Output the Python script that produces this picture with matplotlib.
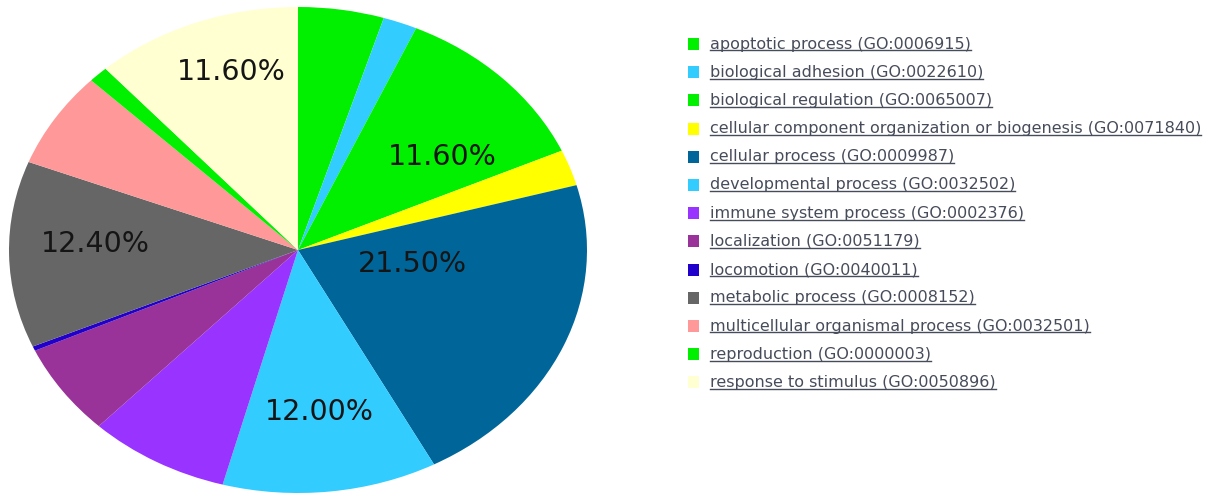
import matplotlib
matplotlib.use("Agg")
import matplotlib.pyplot as plt
from matplotlib.patches import Rectangle
from matplotlib.lines import Line2D
import numpy as np

# GO biological process categories and their share (%)
terms = [
    "apoptotic process (GO:0006915)",
    "biological adhesion (GO:0022610)",
    "biological regulation (GO:0065007)",
    "cellular component organization or biogenesis (GO:0071840)",
    "cellular process (GO:0009987)",
    "developmental process (GO:0032502)",
    "immune system process (GO:0002376)",
    "localization (GO:0051179)",
    "locomotion (GO:0040011)",
    "metabolic process (GO:0008152)",
    "multicellular organismal process (GO:0032501)",
    "reproduction (GO:0000003)",
    "response to stimulus (GO:0050896)",
]
shares = [4.8, 1.9, 11.6, 2.4, 21.5, 12.0, 7.9, 6.1, 0.3, 12.4, 6.4, 1.1, 11.6]
colors = ["#00f000", "#33ccff", "#00f000", "#ffff00", "#006699", "#33ccff",
          "#9933ff", "#993399", "#2200cc", "#666666", "#ff9999", "#00f000",
          "#ffffd2"]

# only the big slices carry a percentage label
labelled = {2: "11.60%", 4: "21.50%", 5: "12.00%", 9: "12.40%", 12: "11.60%"}
# (radius, angle shift in degrees) for each label
label_pos = {2: (0.63, -7.4), 4: (0.40, 15), 5: (0.67, 0), 9: (0.70, -3), 12: (0.77, -3.4)}

W, H = 1207, 497
fig = plt.figure(figsize=(W / 100, H / 100), dpi=100)

# pie axes, stretched into an ellipse
ax = fig.add_axes([9 / W, 4 / H, 578 / W, 486 / H])
wedges, _ = ax.pie(shares, colors=colors, startangle=90, counterclock=False,
                   wedgeprops=dict(linewidth=0))
ax.set_aspect("auto")
ax.set_xlim(-1, 1)
ax.set_ylim(-1, 1)
ax.axis("off")

for i, txt in labelled.items():
    w = wedges[i]
    mid = np.deg2rad((w.theta1 + w.theta2) / 2 + label_pos[i][1])
    r = label_pos[i][0]
    ax.text(r * np.cos(mid), r * np.sin(mid), txt, ha="center", va="center",
            fontsize=20.5, family="DejaVu Sans", color="#151515")

# legend drawn in pixel coordinates
lax = fig.add_axes([0, 0, 1, 1])
lax.set_xlim(0, W)
lax.set_ylim(H, 0)
lax.axis("off")

row0, step = 44, 28.2
texts = []
for k, (name, c) in enumerate(zip(terms, colors)):
    y = row0 + k * step
    lax.add_patch(Rectangle((688, y - 6), 11, 12, color=c, lw=0))
    t = lax.text(710, y, name, ha="left", va="center", fontsize=11.5,
                 family="DejaVu Sans", color="#474c5a")
    texts.append(t)

fig.canvas.draw()
rend = fig.canvas.get_renderer()
inv = lax.transData.inverted()
for t in texts:
    bb = t.get_window_extent(rend)
    (x0, y0), (x1, _) = inv.transform([(bb.x0, bb.y0), (bb.x1, bb.y0)])
    lax.add_line(Line2D([x0, x1], [y0 - 1, y0 - 1], color="#474c5a", lw=1))

fig.savefig("out.png", dpi=100, facecolor="white")
